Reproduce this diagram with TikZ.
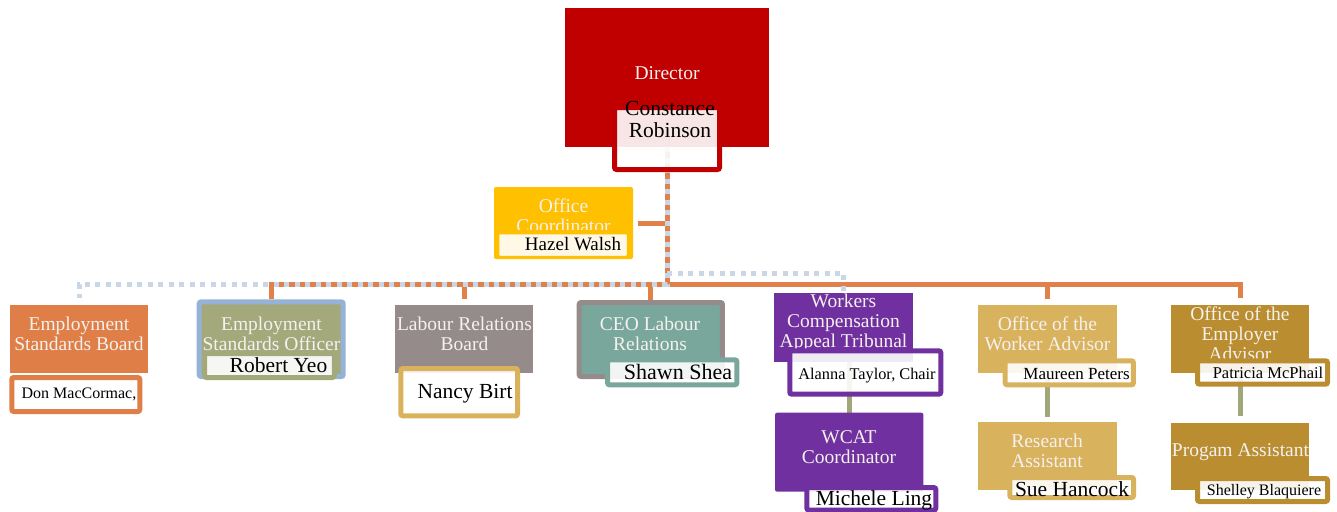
\documentclass[tikz,border=0pt]{standalone}
\usepackage{fontspec}
\setmainfont{Liberation Serif}
\usepackage{tikz}
\usetikzlibrary{backgrounds}
\definecolor{dirred}{HTML}{C00000}
\definecolor{ocyellow}{HTML}{FFC000}
\definecolor{esborange}{HTML}{DF7F47}
\definecolor{connorange}{HTML}{E0804A}
\definecolor{dotblue}{HTML}{C9D6E6}
\definecolor{esoblue}{HTML}{95B3D7}
\definecolor{esoolive}{HTML}{A4A97C}
\definecolor{lrbgray}{HTML}{958B8A}
\definecolor{nbgold}{HTML}{D9B25B}
\definecolor{ceoteal}{HTML}{7AA79C}
\definecolor{wcpurple}{HTML}{7030A0}
\definecolor{owagold}{HTML}{D9B25E}
\definecolor{oeagold}{HTML}{BA8D30}
\definecolor{subolive}{HTML}{A0A87A}
\definecolor{titlewhite}{HTML}{F4F1EE}
\tikzstyle{unit} = [rectangle, inner sep=0pt, draw=none]
\tikzstyle{namebox} = [rectangle, rounded corners=2pt, line width=5pt, fill=white, fill opacity=0.9, inner sep=0pt]
\tikzstyle{titletext} = [inner sep=0pt, align=center, text=titlewhite, font=\fontsize{19.5}{20}\selectfont]
\tikzstyle{bigname} = [inner sep=0pt, anchor=base, align=center, font=\fontsize{21.5}{21.7}\selectfont]
\tikzstyle{smallname} = [inner sep=0pt, anchor=base, font=\fontsize{16}{17}\selectfont]
\tikzstyle{conn} = [draw=connorange, line width=5pt]
\tikzstyle{dotconn} = [draw=dotblue, line width=5pt, dash pattern=on 5pt off 5.5pt]
\tikzstyle{subconn} = [draw=subolive, line width=5pt]
\begin{document}
\begin{tikzpicture}[x=1pt, y=-1pt]
  \useasboundingbox (0,0) rectangle (1337,511);

  % director and assistant
  \node (dir) [unit, fill=dirred, minimum width=204, minimum height=139] at (667,77.5) {};
  \node (dirt) [titletext, anchor=base] at (667,79.3) {Director};
  \node (crb) [namebox, draw=dirred, minimum width=105, minimum height=62] at (667,138.5) {};
  \node (crbt) [bigname, anchor=center] at (670,119.5) {Constance\\Robinson};

  \node (oc) [unit, fill=ocyellow, rounded corners=2pt, minimum width=139, minimum height=72] at (563.5,223) {};
  \begin{scope}
    \clip (oc.north west) rectangle (oc.east |- 0,229);
    \node (oct) [titletext] at (563.5,216) {Office\\Coordinator};
  \end{scope}
  \node (hw) [namebox, draw=ocyellow, line width=2.5pt, minimum width=130, minimum height=24] at (563,245) {};
  \node (hwt) [smallname, font=\fontsize{19}{20}\selectfont] at (573,250.7) {Hazel Walsh};

  % first row
  \node (esb) [unit, fill=esborange, minimum width=138.3, minimum height=68.3] at (79.2,339.2) {};
  \node (esbt) [titletext] at (79,334.2) {Employment\\Standards Board};
  \node (dm) [namebox, draw=esborange, minimum width=128, minimum height=34] at (75.8,394.5) {};
  \node (dmt) [smallname] at (79,398.7) {Don MacCormac,};

  \node (eso) [unit, fill=esoolive, draw=esoblue, line width=5pt, rounded corners=2pt, minimum width=144, minimum height=74.7] at (271.2,339.2) {};
  \node (esot) [titletext] at (271.5,334) {Employment\\Standards Officer};
  \node (ry) [namebox, draw=esoolive, minimum width=129.7, minimum height=24] at (269.4,365.5) {};
  \node (ryt) [bigname] at (278.5,372.3) {Robert Yeo};

  \node (lrb) [unit, fill=lrbgray, minimum width=138.3, minimum height=68.3] at (464.2,339.2) {};
  \node (lrbt) [titletext] at (464.5,334) {Labour Relations\\Board};
  \node (nb) [namebox, draw=nbgold, minimum width=116.7, minimum height=47.3] at (459.2,392.2) {};
  \node (nbt) [bigname] at (465,398.3) {Nancy Birt};

  \node (ceo) [unit, fill=ceoteal, draw=lrbgray, line width=5pt, rounded corners=2pt, minimum width=143.3, minimum height=74] at (650.8,339.5) {};
  \node (ceot) [titletext] at (650,334) {CEO Labour\\Relations};
  \node (ss) [namebox, draw=ceoteal, minimum width=129.3, minimum height=25] at (672.2,372.3) {};
  \node (sst) [bigname, font=\fontsize{22}{22}\selectfont] at (678,379) {Shawn Shea};

  \node (wcat) [unit, fill=wcpurple, minimum width=139, minimum height=69] at (843.5,327.5) {};
  \node (wcatt) [titletext] at (843.5,323.3) {Workers\\Compensation\\Appeal Tribunal};
  \node (at) [namebox, draw=wcpurple, minimum width=151, minimum height=43.4] at (865.3,372.5) {};
  \node (att) [smallname, font=\fontsize{16.3}{17}\selectfont] at (867,379) {Alanna Taylor, Chair};

  \node (owa) [unit, fill=owagold, minimum width=138.4, minimum height=68.3] at (1047.5,339.2) {};
  \node (owat) [titletext] at (1047.5,334) {Office of the\\Worker Advisor};
  \node (mp) [namebox, draw=owagold, minimum width=128.3, minimum height=24] at (1069.3,372.8) {};
  \node (mpt) [smallname, font=\fontsize{17}{18}\selectfont] at (1076.5,379) {Maureen Peters};

  \node (oea) [unit, fill=oeagold, minimum width=138, minimum height=68.3] at (1240,339.2) {};
  \node (oeat) [titletext] at (1240,334) {Office of the\\Employer\\Advisor};
  \node (pm) [namebox, draw=oeagold, minimum width=130, minimum height=23.4] at (1262.5,372.5) {};
  \node (pmt) [smallname, font=\fontsize{16.5}{17}\selectfont] at (1268,378.3) {Patricia McPhail};

  % second row
  \node (wcc) [unit, fill=wcpurple, rounded corners=2pt, minimum width=148.3, minimum height=79] at (849.2,452.2) {};
  \node (wcct) [titletext] at (849,447.4) {WCAT\\Coordinator};
  \node (ml) [namebox, draw=wcpurple, minimum width=129, minimum height=22.5] at (871.3,498.8) {};
  \node (mlt) [bigname] at (874,505) {Michele Ling};

  \node (ra) [unit, fill=owagold, minimum width=138.4, minimum height=67.7] at (1047.5,456.2) {};
  \node (rat) [titletext] at (1047,451.2) {Research\\Assistant};
  \node (sh) [namebox, draw=owagold, minimum width=123.7, minimum height=20] at (1071.7,487.5) {};
  \node (sht) [bigname] at (1072,496) {Sue Hancock};

  \node (pa) [unit, fill=oeagold, minimum width=138, minimum height=67.3] at (1240,456.3) {};
  \node (pat) [titletext, anchor=base] at (1240.5,456.7) {Progam Assistant};
  \node (sb) [namebox, draw=oeagold, minimum width=130, minimum height=23] at (1262.5,490) {};
  \node (sbt) [smallname] at (1264,495) {Shelley Blaquiere};

  \begin{scope}[on background layer]
    \coordinate (bus) at (667,284);
    \coordinate (dotbus) at (667,273);
    \draw [conn] (dir.south) -- (bus);
    \draw [conn] ([xshift=5pt]oc.east) -- (oc.east -| bus);
    \draw [conn] (bus) -| (eso.north);
    \draw [conn] (bus) -| ([yshift=6pt]lrb.north);
    \draw [conn] (bus) -| (ceo.north);
    \draw [conn] (bus) -| ([yshift=6pt]owa.north);
    \draw [conn] (bus) -| ([yshift=7pt]oea.north);
    \draw [dotconn] (dir.south) -- (bus) -| ([yshift=7pt]esb.north);
    \draw [dotconn] (dir.south) -- (dotbus) -| (wcat.north);
    \draw [subconn] (wcat.south -| wcc.north) -- (wcc.north);
    \draw [subconn] (owa.south) -- ([yshift=5pt]ra.north);
    \draw [subconn] (oea.south) -- ([yshift=6pt]pa.north);
  \end{scope}
\end{tikzpicture}
\end{document}
